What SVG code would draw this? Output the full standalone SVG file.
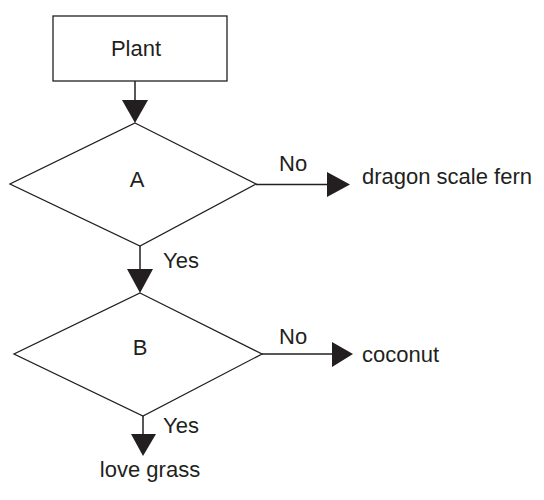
<svg xmlns="http://www.w3.org/2000/svg" width="544" height="500" viewBox="0 0 544 500">
<style>
.shape{fill:#fff;stroke:#231f20;stroke-width:1.3}
.line{fill:none;stroke:#231f20;stroke-width:1.5}
.head{fill:#231f20;stroke:none}
text{font-family:"Liberation Sans",Arial,sans-serif;font-size:22px;fill:#231f20}
.c{text-anchor:middle}
</style>
<rect width="544" height="500" fill="#fff"/>
<g id="connectors">
<line class="line" x1="135" y1="81" x2="135" y2="101"/>
<polygon class="head" points="122,100 148,100 135,123"/>
<line class="line" x1="140" y1="246" x2="140" y2="270"/>
<polygon class="head" points="127,269 153,269 140,293"/>
<line class="line" x1="143" y1="416" x2="143" y2="435"/>
<polygon class="head" points="131,434 156,434 143,456"/>
<line class="line" x1="256" y1="184.5" x2="328" y2="184.5"/>
<polygon class="head" points="327,172 350,184.5 327,197"/>
<line class="line" x1="262" y1="354" x2="333" y2="354"/>
<polygon class="head" points="332,342 353,354 332,367"/>
<text x="279" y="171">No</text>
<text x="279" y="344">No</text>
<text x="163" y="268">Yes</text>
<text x="163" y="433">Yes</text>
</g>
<g id="plant">
<rect class="shape" x="53" y="16" width="174" height="65"/>
<text class="c" x="136" y="56">Plant</text>
</g>
<g id="A">
<polygon class="shape" points="135,123 256,184 140,246 10,184"/>
<text class="c" x="137" y="187">A</text>
</g>
<g id="B">
<polygon class="shape" points="140,293 262,354 143,416 14,354"/>
<text class="c" x="140" y="355">B</text>
</g>
<g id="fern"><text x="362" y="184">dragon scale fern</text></g>
<g id="coconut"><text x="362" y="362">coconut</text></g>
<g id="lovegrass"><text class="c" x="150" y="477">love grass</text></g>
</svg>
